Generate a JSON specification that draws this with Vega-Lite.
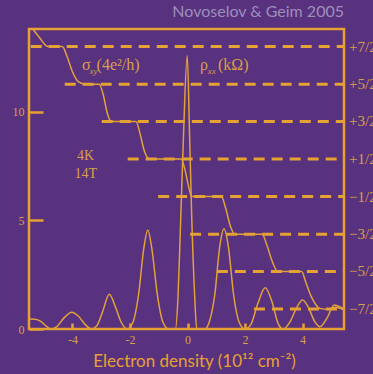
{
  "$schema": "https://vega.github.io/schema/vega-lite/v6.json",
  "width": 315,
  "height": 300,
  "autosize": "none",
  "padding": {"left": 29, "top": 29, "right": 29, "bottom": 45},
  "background": "#58317f",
  "title": {"text": "Novoselov & Geim 2005", "anchor": "end", "frame": "group", "font": "Lato", "fontSize": 16, "fontWeight": "normal", "color": "#9c90ba", "offset": 6},
  "config": {
    "view": {"stroke": "#e6a232", "strokeWidth": 2.5},
    "axis": {"grid": false, "domain": false, "tickColor": "#e6a232", "tickWidth": 2.5, "labelFont": "Liberation Serif", "labelFontSize": 12, "labelColor": "#d9a047"}
  },
  "datasets": {
    "levels": [
      {"level": 13.01, "xstart": -5.45, "xend": 5.44, "label": "+7/2"},
      {"level": 11.28, "xstart": -4.27, "xend": 5.44, "label": "+5/2"},
      {"level": 9.56, "xstart": -2.98, "xend": 5.44, "label": "+3/2"},
      {"level": 7.83, "xstart": -2.08, "xend": 5.44, "label": "+1/2"},
      {"level": 6.10, "xstart": -1.02, "xend": 5.44, "label": "−1/2"},
      {"level": 4.37, "xstart": 0.09, "xend": 5.44, "label": "−3/2"},
      {"level": 2.65, "xstart": 1.02, "xend": 5.44, "label": "−5/2"},
      {"level": 0.92, "xstart": 2.31, "xend": 5.44, "label": "−7/2"}
    ],
    "sigma": [
      {"n": -5.38, "v": 13.82}, {"n": -5.1, "v": 13.35}, {"n": -4.92, "v": 13.05}, {"n": -4.85, "v": 13.01},
      {"n": -4.35, "v": 13.01}, {"n": -4.2, "v": 12.6}, {"n": -4.0, "v": 11.85}, {"n": -3.8, "v": 11.4},
      {"n": -3.55, "v": 11.28}, {"n": -3.07, "v": 11.28}, {"n": -2.93, "v": 10.8}, {"n": -2.8, "v": 10.0},
      {"n": -2.66, "v": 9.56}, {"n": -1.79, "v": 9.56}, {"n": -1.65, "v": 9.0}, {"n": -1.5, "v": 8.2},
      {"n": -1.32, "v": 7.83}, {"n": -0.22, "v": 7.83}, {"n": -0.1, "v": 7.4}, {"n": 0.05, "v": 6.5},
      {"n": 0.14, "v": 6.10}, {"n": 1.18, "v": 6.10}, {"n": 1.32, "v": 5.6}, {"n": 1.5, "v": 4.7},
      {"n": 1.64, "v": 4.37}, {"n": 2.6, "v": 4.37}, {"n": 2.75, "v": 3.9}, {"n": 2.95, "v": 3.1},
      {"n": 3.14, "v": 2.65}, {"n": 3.97, "v": 2.65}, {"n": 4.1, "v": 2.2}, {"n": 4.3, "v": 1.5},
      {"n": 4.6, "v": 0.95}, {"n": 4.9, "v": 0.9}, {"n": 5.15, "v": 1.0}, {"n": 5.44, "v": 0.88}
    ],
    "rho": [
      {"n": -5.51, "v": 0.46}, {"n": -5.3, "v": 0.45}, {"n": -5.1, "v": 0.35}, {"n": -4.9, "v": 0.12},
      {"n": -4.75, "v": 0.0}, {"n": -4.55, "v": 0.1}, {"n": -4.3, "v": 0.5}, {"n": -4.02, "v": 0.77},
      {"n": -3.8, "v": 0.6}, {"n": -3.55, "v": 0.2}, {"n": -3.35, "v": 0.0}, {"n": -3.15, "v": 0.15},
      {"n": -2.95, "v": 0.8}, {"n": -2.72, "v": 1.6}, {"n": -2.5, "v": 1.0}, {"n": -2.3, "v": 0.3},
      {"n": -2.1, "v": 0.0}, {"n": -1.9, "v": 0.3}, {"n": -1.7, "v": 1.6}, {"n": -1.52, "v": 3.7},
      {"n": -1.38, "v": 4.56}, {"n": -1.24, "v": 3.7}, {"n": -1.05, "v": 1.6}, {"n": -0.85, "v": 0.3},
      {"n": -0.65, "v": 0.0}, {"n": -0.42, "v": 0.0}, {"n": -0.33, "v": 1.5}, {"n": -0.25, "v": 4.5},
      {"n": -0.15, "v": 8.5}, {"n": -0.01, "v": 12.6}, {"n": 0.08, "v": 8.5}, {"n": 0.15, "v": 5.0},
      {"n": 0.25, "v": 1.5}, {"n": 0.32, "v": 0.0}, {"n": 0.6, "v": 0.0}, {"n": 0.75, "v": 0.3},
      {"n": 0.95, "v": 1.6}, {"n": 1.12, "v": 3.8}, {"n": 1.27, "v": 4.62}, {"n": 1.42, "v": 3.8},
      {"n": 1.6, "v": 1.6}, {"n": 1.8, "v": 0.3}, {"n": 2.0, "v": 0.0}, {"n": 2.2, "v": 0.2},
      {"n": 2.45, "v": 1.2}, {"n": 2.7, "v": 1.9}, {"n": 2.95, "v": 1.2}, {"n": 3.15, "v": 0.25},
      {"n": 3.33, "v": 0.0}, {"n": 3.55, "v": 0.3}, {"n": 3.8, "v": 1.0}, {"n": 4.0, "v": 1.34},
      {"n": 4.2, "v": 1.0}, {"n": 4.42, "v": 0.35}, {"n": 4.6, "v": 0.1}, {"n": 4.85, "v": 0.5},
      {"n": 5.1, "v": 1.1}, {"n": 5.3, "v": 1.02}, {"n": 5.44, "v": 0.92}
    ]
  },
  "encoding": {
    "x": {"type": "quantitative", "scale": {"domain": [-5.51, 5.44], "nice": false, "zero": false}},
    "y": {"type": "quantitative", "scale": {"domain": [0, 13.82], "nice": false}}
  },
  "layer": [
    {
      "data": {"name": "levels"},
      "mark": {"type": "rule", "color": "#e6a232", "strokeWidth": 3, "strokeDash": [11, 7]},
      "encoding": {
        "x": {"field": "xstart", "type": "quantitative", "axis": {"values": [-4, -2, 0, 2, 4], "labelExpr": "'' + datum.value", "tickSize": -6, "labelPadding": 11, "title": "Electron density (10¹² cm⁻²)", "titleFont": "Lato", "titleFontSize": 17, "titleFontWeight": "normal", "titleColor": "#e6a232", "titlePadding": 8, "titleX": 165}},
        "x2": {"field": "xend"},
        "y": {"field": "level", "type": "quantitative", "axis": {"values": [0, 5, 10], "tickSize": -14, "labelPadding": 19, "title": null}}
      }
    },
    {
      "data": {"name": "levels"},
      "mark": {"type": "text", "align": "left", "baseline": "middle", "dx": 5, "font": "Liberation Serif", "fontSize": 15, "color": "#d9a047"},
      "encoding": {
        "x": {"field": "xend", "type": "quantitative"},
        "y": {"field": "level", "type": "quantitative"},
        "text": {"field": "label"}
      }
    },
    {
      "data": {"name": "sigma"},
      "mark": {"type": "line", "interpolate": "monotone", "color": "#e2a23a", "strokeWidth": 1.5},
      "encoding": {
        "x": {"field": "n", "type": "quantitative"},
        "y": {"field": "v", "type": "quantitative"}
      }
    },
    {
      "data": {"name": "rho"},
      "mark": {"type": "line", "interpolate": "monotone", "color": "#e2a23a", "strokeWidth": 1.5},
      "encoding": {
        "x": {"field": "n", "type": "quantitative"},
        "y": {"field": "v", "type": "quantitative"}
      }
    },
    {
      "data": {"values": [
        {"x": -3.67, "y": 12.17, "t": "σ"},
        {"x": -3.16, "y": 12.17, "t": "(4e²/h)"},
        {"x": 0.43, "y": 12.17, "t": "ρ"},
        {"x": 1.06, "y": 12.17, "t": "(kΩ)"}
      ]},
      "mark": {"type": "text", "align": "left", "baseline": "middle", "font": "Liberation Serif", "fontSize": 16, "color": "#d9a047"},
      "encoding": {
        "x": {"field": "x", "type": "quantitative"},
        "y": {"field": "y", "type": "quantitative"},
        "text": {"field": "t"}
      }
    },
    {
      "data": {"values": [
        {"x": -3.41, "y": 11.89, "t": "xy"},
        {"x": 0.70, "y": 11.89, "t": "xx"}
      ]},
      "mark": {"type": "text", "align": "left", "baseline": "middle", "font": "Liberation Serif", "fontSize": 9, "fontStyle": "italic", "color": "#d9a047"},
      "encoding": {
        "x": {"field": "x", "type": "quantitative"},
        "y": {"field": "y", "type": "quantitative"},
        "text": {"field": "t"}
      }
    },
    {
      "data": {"values": [
        {"x": -3.54, "y": 7.99, "t": "4K"},
        {"x": -3.54, "y": 7.14, "t": "14T"}
      ]},
      "mark": {"type": "text", "align": "center", "baseline": "middle", "font": "Liberation Serif", "fontSize": 14, "color": "#d9a047"},
      "encoding": {
        "x": {"field": "x", "type": "quantitative"},
        "y": {"field": "y", "type": "quantitative"},
        "text": {"field": "t"}
      }
    }
  ]
}
